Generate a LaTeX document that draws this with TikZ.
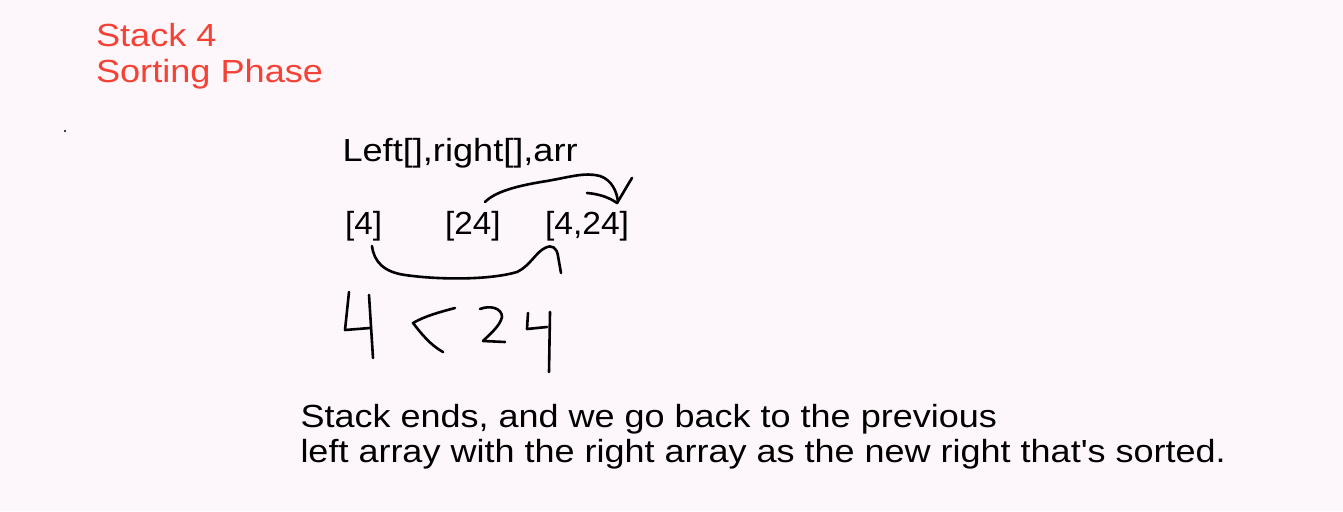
\documentclass[tikz,border=0pt]{standalone}
\usepackage{fontspec}
\setmainfont{Liberation Sans}
\definecolor{bgpink}{RGB}{253,246,250}
\definecolor{titlered}{RGB}{244,67,54}
\begin{document}
\begin{tikzpicture}[x=1pt,y=-1pt,
  txt/.style={anchor=base west,inner sep=0pt,outer sep=0pt,font=\fontsize{32}{36}\selectfont},
  ink/.style={draw=black,line width=2.6pt,line cap=round,line join=round}]
\fill[bgpink] (0,0) rectangle (1343,511);
\useasboundingbox (0,0) rectangle (1343,511);
% title
\node[txt,text=titlered] (t1) at (96,46.5) {\scalebox{1.13}[1]{Stack 4}};
\node[txt,text=titlered] (t2) at (96,82.5) {\scalebox{1.13}[1]{Sorting Phase}};
% stray dot
\fill[black] (65,131) circle (1.1);
% header
\node[txt] (hdr) at (342.5,161) {\scalebox{1.13}[1]{Left[],right[],arr}};
% arrays
\node[txt] (a) at (345,234) {\scalebox{1.04}[1]{[4]}};
\node[txt] (b) at (445,234) {\scalebox{1.04}[1]{[24]}};
\node[txt] (c) at (545,234) {\scalebox{1.05}[1]{[4,24]}};
% bottom arc from [4] to [4,24]
\draw[ink] (372,246) .. controls (374,262) and (384,272) .. (405,275)
  .. controls (440,280) and (490,280) .. (517,272)
  .. controls (530,266) and (536,252) .. (545,248)
  .. controls (552,244) and (557,248) .. (558,256)
  -- (561,273);
% top arc from [24] to [4,24]
\draw[ink] (485,202) .. controls (495,192) and (515,186) .. (547,181)
  .. controls (570,177) and (585,172) .. (600,176)
  .. controls (612,180) and (617,192) .. (618,202);
\draw[ink] (587,193) .. controls (600,194) and (610,198) .. (617,203)
  .. controls (622,195) and (627,186) .. (632,178);
% handwritten 4 < 24
\draw[ink] (349,292) -- (345,330) -- (370,328);
\draw[ink] (369,295) -- (373,358);
\draw[ink] (455,308) .. controls (440,312) and (425,316) .. (413,323)
  .. controls (420,332) and (430,345) .. (443,352);
\draw[ink] (480,309) .. controls (490,305) and (502,308) .. (502,317)
  .. controls (500,326) and (490,334) .. (483,341)
  -- (505,342);
\draw[ink] (528,313) -- (527,329) -- (547,327);
\draw[ink] (550,312) -- (549,372);
% bottom text
\node[txt] (l1) at (300.5,427) {\scalebox{1.125}[1]{Stack ends, and we go back to the previous}};
\node[txt] (l2) at (300.5,462) {\scalebox{1.125}[1]{left array with the right array as the new right that\textquotesingle s sorted.}};
\end{tikzpicture}
\end{document}
